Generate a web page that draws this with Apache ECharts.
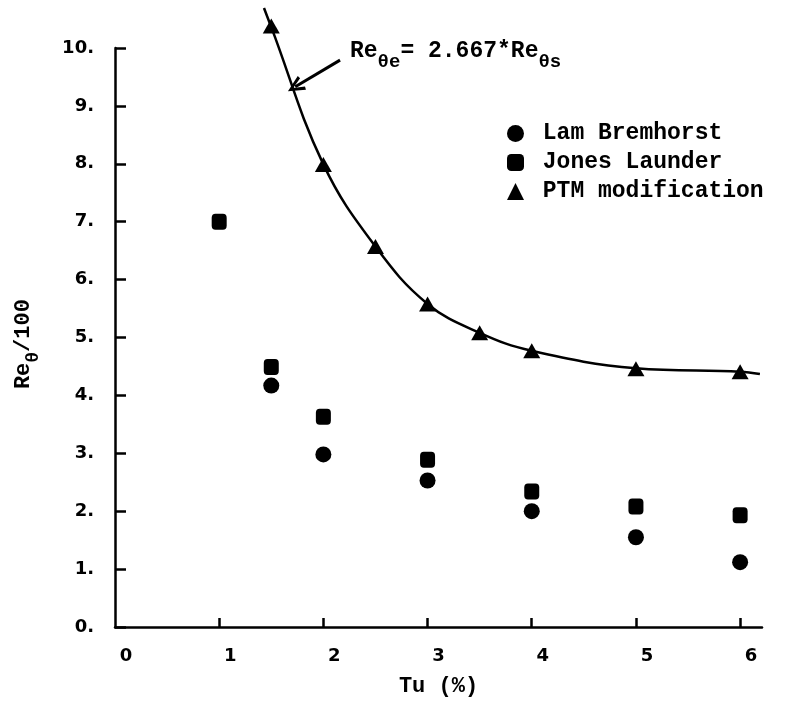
<!DOCTYPE html>
<html>
<head>
<meta charset="utf-8">
<script src="https://cdn.jsdelivr.net/npm/echarts@6/dist/echarts.min.js"></script>
<style>
html,body{margin:0;padding:0;background:#fff;}
#chart{width:786px;height:702px;}
</style>
</head>
<body>
<div id="chart"></div>
<script>
// ---- data ----
const xTickValues = [1, 2, 3, 4, 5, 6];
const xLabelValues = [0, 1, 2, 3, 4, 5, 6];
const yMin = 0, yMax = 10, yStep = 1;

const lamTu = [1.5, 2, 3, 4, 5, 6];
const lamValues = [4.17, 2.98, 2.53, 2.0, 1.55, 1.12];

const jonesTu = [1, 1.5, 2, 3, 4, 5, 6];
const jonesValues = [7.0, 4.49, 3.63, 2.89, 2.34, 2.08, 1.93];

const ptmTu = [1.5, 2, 2.5, 3, 3.5, 4, 5, 6];
const ptmValues = [10.38, 7.99, 6.57, 5.58, 5.08, 4.77, 4.46, 4.41];

const curveTu = [1.43, 1.5, 2, 2.5, 3, 3.5, 4, 5, 6, 6.19];
const curveValues = [10.69, 10.36, 7.99, 6.57, 5.58, 5.08, 4.77, 4.47, 4.41, 4.37];

const arrowFrom = [2.16, 9.79];
const arrowTo = [1.73, 9.33];

const seriesNames = ['Lam Bremhorst', 'Jones Launder', 'PTM modification'];

// ---- chart ----
const mono = 'Liberation Mono';
const pair = (xs, ys) => xs.map((x, i) => [x, ys[i]]);

const chart = echarts.init(document.getElementById('chart'), null, {renderer: 'canvas'});
chart.setOption({
  backgroundColor: '#fff',
  animation: false,
  grid: {left: 115, right: 24, top: 48, bottom: 73, containLabel: false},
  legend: {
    orient: 'vertical',
    left: 502,
    top: 117,
    itemWidth: 17,
    itemHeight: 17,
    itemGap: 6,
    selectedMode: false,
    formatter: ' {name}',
    textStyle: {fontFamily: mono, fontSize: 23, fontWeight: 'bold', color: '#000', lineHeight: 23},
    data: [
      {name: seriesNames[0], icon: 'circle', itemStyle: {color: '#000', opacity: 1}},
      {name: seriesNames[1], icon: 'roundRect', itemStyle: {color: '#000', opacity: 1}},
      {name: seriesNames[2], icon: 'triangle', itemStyle: {color: '#000', opacity: 1}}
    ]
  },
  xAxis: {
    type: 'value',
    min: 0,
    max: 6.21,
    name: 'Tu (%)',
    nameLocation: 'middle',
    nameGap: 48,
    nameTextStyle: {fontFamily: mono, fontSize: 22, fontWeight: 'bold', color: '#000'},
    axisLine: {show: true, onZero: false, lineStyle: {color: '#000', width: 2.5}},
    axisTick: {show: true, inside: true, length: 9, customValues: xTickValues, lineStyle: {color: '#000', width: 2.5}},
    axisLabel: {customValues: xLabelValues, margin: 20, padding: [0, 0, 0, 22], fontFamily: 'DejaVu Sans', fontWeight: 'bold', fontSize: 18, color: '#000'},
    splitLine: {show: false}
  },
  yAxis: {
    type: 'value',
    min: yMin,
    max: yMax,
    interval: yStep,
    name: '{n|Re}{s|θ}{n|/100 }',
    nameLocation: 'middle',
    nameRotate: 90,
    nameGap: 73,
    nameTextStyle: {
      color: '#000',
      rich: {
        n: {fontFamily: mono, fontSize: 22, fontWeight: 'bold', color: '#000', verticalAlign: 'top', lineHeight: 30},
        s: {fontFamily: mono, fontSize: 18, fontWeight: 'bold', color: '#000', verticalAlign: 'bottom', lineHeight: 30}
      }
    },
    axisLine: {show: true, onZero: false, lineStyle: {color: '#000', width: 2.5}},
    axisTick: {show: true, inside: true, length: 11, lineStyle: {color: '#000', width: 2.5}},
    axisLabel: {margin: 21, formatter: v => v + '.', fontFamily: 'DejaVu Sans', fontWeight: 'bold', fontSize: 18, color: '#000'},
    splitLine: {show: false}
  },
  series: [
    {
      name: 'curve',
      type: 'line',
      data: pair(curveTu, curveValues),
      showSymbol: false,
      symbol: 'none',
      smooth: 0.4,
      clip: false,
      silent: true,
      lineStyle: {color: '#000', width: 2.5},
      markLine: {
        silent: true,
        symbol: ['none', 'path://M0,16 L7,0 L14,16 L11.2,16.8 L7,6 L2.8,16.8 Z'],
        symbolSize: [16, 17],
        label: {show: false},
        lineStyle: {color: '#000', width: 3, type: 'solid'},
        data: [[{coord: arrowFrom}, {coord: arrowTo}]]
      }
    },
    {
      name: seriesNames[0],
      type: 'scatter',
      data: pair(lamTu, lamValues),
      symbol: 'circle',
      symbolSize: 16,
      clip: false,
      itemStyle: {color: '#000', opacity: 1}
    },
    {
      name: seriesNames[1],
      type: 'scatter',
      data: pair(jonesTu, jonesValues),
      symbol: 'roundRect',
      symbolSize: [15, 16],
      clip: false,
      itemStyle: {color: '#000', opacity: 1}
    },
    {
      name: seriesNames[2],
      type: 'scatter',
      data: pair(ptmTu, ptmValues),
      symbol: 'triangle',
      symbolSize: [17, 15],
      clip: false,
      itemStyle: {color: '#000', opacity: 1}
    }
  ],
  graphic: [
    {
      type: 'text',
      left: 350,
      top: 40,
      style: {
        text: '{n|Re}{s|θe}{n|= 2.667*Re}{s|θs}',
        rich: {
          n: {fontFamily: mono, fontSize: 23, fontWeight: 'bold', fill: '#000', verticalAlign: 'top', lineHeight: 32},
          s: {fontFamily: mono, fontSize: 19, fontWeight: 'bold', fill: '#000', verticalAlign: 'bottom', lineHeight: 32}
        }
      }
    }
  ]
});
</script>
</body>
</html>
